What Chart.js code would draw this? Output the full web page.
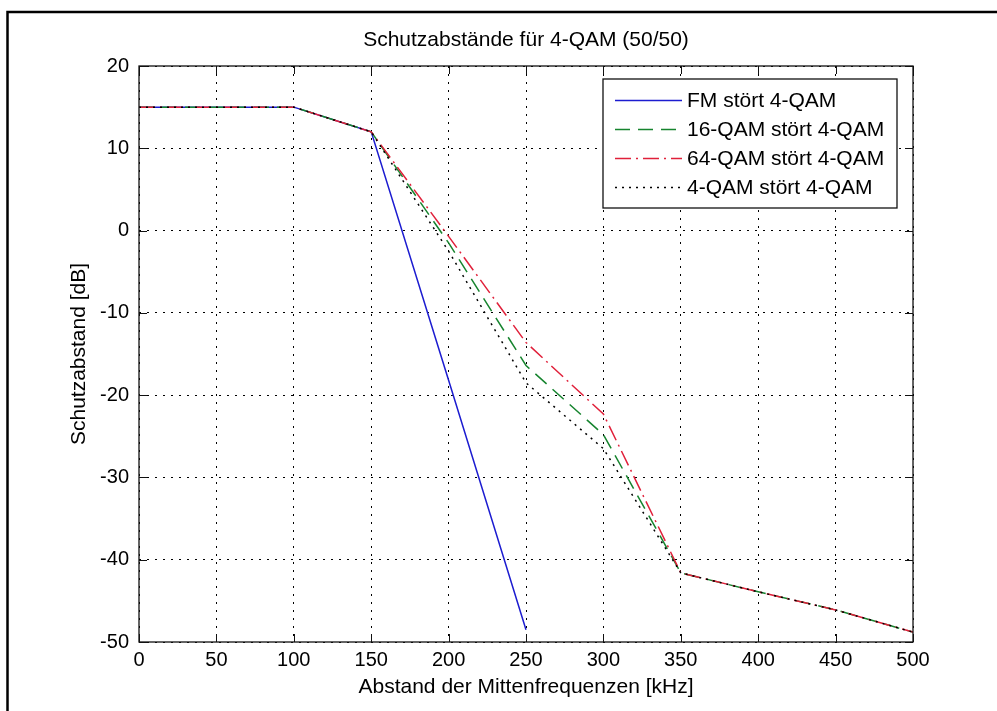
<!DOCTYPE html>
<html><head><meta charset="utf-8">
<script src="https://cdn.jsdelivr.net/npm/chart.js@4.4.0/dist/chart.umd.min.js"></script>
<style>html,body{margin:0;padding:0;background:#fff;overflow:hidden;} canvas{display:block;}</style>
</head><body>
<canvas id="c" width="997" height="711" style="width:997px;height:711px"></canvas>
<script>
// ---- data ----
const xValues    = [0, 50, 100, 150, 200, 250, 300, 350, 400, 450, 500];
const fmX        = [0, 50, 100, 150, 200, 250];
const fmValues   = [15, 15, 15, 12, -18.2, -48.5];
const qam16Values = [15, 15, 15, 12, -1.5, -16.4, -24.8, -41.6, -43.9, -46.1, -48.8];
const qam64Values = [15, 15, 15, 12, -0.7, -13.6, -22.3, -41.6, -43.9, -46.1, -48.8];
const qam4Values  = [15, 15, 15, 12, -2.5, -18.5, -26.5, -41.6, -43.9, -46.1, -48.8];
const seriesLabels = ['FM stört 4-QAM', '16-QAM stört 4-QAM', '64-QAM stört 4-QAM', '4-QAM stört 4-QAM'];
const titleText = 'Schutzabstände für 4-QAM (50/50)';
const xTitle = 'Abstand der Mittenfrequenzen [kHz]';
const yTitle = 'Schutzabstand [dB]';

const pts = (xs, ys) => xs.map((x, i) => ({x, y: ys[i]}));

Chart.defaults.font.family = '"Liberation Sans", Arial, Helvetica, sans-serif';
Chart.defaults.color = '#000';

const decor = {
  id: 'decor',
  afterDraw(chart) {
    const ctx = chart.ctx, ca = chart.chartArea;
    const xs = chart.scales.x, ys = chart.scales.y;
    ctx.save();
    // axes box
    ctx.strokeStyle = '#111';
    ctx.lineWidth = 1.3;
    ctx.setLineDash([]);
    ctx.strokeRect(ca.left, ca.top, ca.right - ca.left, ca.bottom - ca.top);
    // inward ticks
    const tl = 8;
    ctx.beginPath();
    xs.ticks.forEach(t => {
      const p = Math.round(xs.getPixelForValue(t.value)) + 0.5;
      ctx.moveTo(p, ca.bottom); ctx.lineTo(p, ca.bottom - tl);
      ctx.moveTo(p, ca.top); ctx.lineTo(p, ca.top + tl);
    });
    ys.ticks.forEach(t => {
      const p = Math.round(ys.getPixelForValue(t.value)) + 0.5;
      ctx.moveTo(ca.left, p); ctx.lineTo(ca.left + tl, p);
      ctx.moveTo(ca.right, p); ctx.lineTo(ca.right - tl, p);
    });
    ctx.lineWidth = 1;
    ctx.stroke();
    // title, centred over the axes
    ctx.font = '21px "Liberation Sans", Arial, sans-serif';
    ctx.fillStyle = '#000';
    ctx.textAlign = 'center';
    ctx.textBaseline = 'middle';
    ctx.fillText(titleText, (ca.left + ca.right) / 2, 40);
    // outer figure frame
    ctx.lineWidth = 2.5;
    ctx.strokeStyle = '#000';
    ctx.strokeRect(7.5, 12, 1200, 900);
    // legend
    const lx = 603, ly = 79, lw = 294, lh = 129;
    ctx.fillStyle = '#fff';
    ctx.fillRect(lx, ly, lw, lh);
    ctx.lineWidth = 1.3;
    ctx.strokeStyle = '#111';
    ctx.strokeRect(lx, ly, lw, lh);
    ctx.textBaseline = 'middle';
    ctx.textAlign = 'left';
    chart.data.datasets.forEach((ds, i) => {
      const cy = 100 + i * 29;
      ctx.beginPath();
      ctx.setLineDash(ds.borderDash || []);
      ctx.strokeStyle = ds.borderColor;
      ctx.lineWidth = ds.borderWidth;
      ctx.moveTo(615, cy + 0.5); ctx.lineTo(682, cy + 0.5);
      ctx.stroke();
      ctx.setLineDash([]);
      ctx.fillStyle = '#000';
      ctx.fillText(ds.label, 687, cy + 1);
    });
    ctx.restore();
  }
};

new Chart(document.getElementById('c'), {
  type: 'line',
  data: {
    datasets: [
      { label: seriesLabels[0], data: pts(fmX, fmValues), borderColor: '#1c1cd0', borderWidth: 1.5, borderDash: [], order: 4 },
      { label: seriesLabels[1], data: pts(xValues, qam16Values), borderColor: '#16842e', borderWidth: 1.5, borderDash: [15, 8], order: 3 },
      { label: seriesLabels[2], data: pts(xValues, qam64Values), borderColor: '#e0203a', borderWidth: 1.5, borderDash: [16, 5, 2, 5], order: 2 },
      { label: seriesLabels[3], data: pts(xValues, qam4Values), borderColor: '#000', borderWidth: 1.5, borderDash: [2, 5], order: 1 }
    ]
  },
  options: {
    responsive: false,
    animation: false,
    devicePixelRatio: 1,
    layout: { padding: { left: 0, right: 84, top: 66, bottom: 0 } },
    elements: { point: { radius: 0 }, line: { tension: 0, fill: false } },
    plugins: {
      legend: { display: false },
      tooltip: { enabled: false },
      title: { display: false }
    },
    scales: {
      x: {
        type: 'linear', min: 0, max: 500,
        ticks: { stepSize: 50, color: '#000', font: { size: 20 }, padding: 6, maxRotation: 0 },
        grid: { color: '#000', lineWidth: 1, drawTicks: false },
        border: { display: false, dash: [2, 6] },
        title: { display: true, text: xTitle, color: '#000', font: { size: 21 }, padding: { top: 3, bottom: 11 } },
        afterFit(s) { s.height = 69; }
      },
      y: {
        type: 'linear', min: -50, max: 20,
        ticks: { stepSize: 10, color: '#000', font: { size: 20 }, padding: 10 },
        grid: { color: '#000', lineWidth: 1, drawTicks: false },
        border: { display: false, dash: [2, 6] },
        title: { display: true, text: yTitle, color: '#000', font: { size: 21 }, padding: { top: 67, bottom: 8 } },
        afterFit(s) { s.width = 139; }
      }
    }
  },
  plugins: [decor]
});
</script>
</body></html>
